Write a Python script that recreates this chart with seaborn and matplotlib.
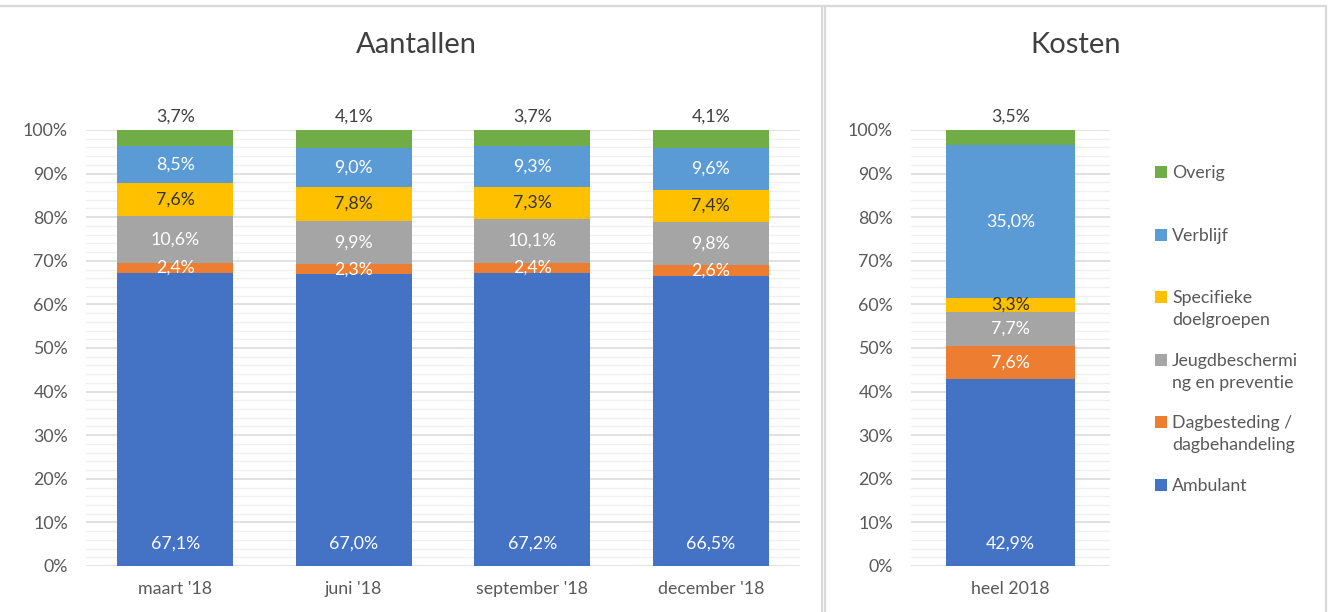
import numpy as np
import matplotlib
matplotlib.use("Agg")
import matplotlib.pyplot as plt
import seaborn as sns
from matplotlib.patches import Rectangle
from matplotlib.lines import Line2D
from matplotlib.ticker import MultipleLocator, PercentFormatter

# ---------------- data ----------------
series = ["Ambulant", "Dagbesteding / dagbehandeling", "Jeugdbescherming en preventie",
          "Specifieke doelgroepen", "Verblijf", "Overig"]
legend_labels = ["Ambulant", "Dagbesteding /\ndagbehandeling", "Jeugdbeschermi\nng en preventie",
                 "Specifieke\ndoelgroepen", "Verblijf", "Overig"]
colors = ["#4472C4", "#ED7D31", "#A5A5A5", "#FFC000", "#5B9BD5", "#70AD47"]
label_colors = ["white", "white", "white", "#333333", "white", "#404040"]

aantallen_periods = ["maart '18", "juni '18", "september '18", "december '18"]
ambulant_a = [67.1, 67.0, 67.2, 66.5]
dagbesteding_a = [2.4, 2.3, 2.4, 2.6]
jeugd_a = [10.6, 9.9, 10.1, 9.8]
specifiek_a = [7.6, 7.8, 7.3, 7.4]
verblijf_a = [8.5, 9.0, 9.3, 9.6]
overig_a = [3.7, 4.1, 3.7, 4.1]

kosten_periods = ["heel 2018"]
ambulant_k = [42.9]
dagbesteding_k = [7.6]
jeugd_k = [7.7]
specifiek_k = [3.3]
verblijf_k = [35.0]
overig_k = [3.5]

# ---------------- style ----------------
sns.set_style("white")
plt.rcParams["font.family"] = ["Lato", "DejaVu Sans"]
TXT = "#595959"
FS = 12.8

W, H = 1333, 612
fig = plt.figure(figsize=(W / 100, H / 100), dpi=100)
fig.patch.set_facecolor("white")


def fmt(v):
    return f"{v:.1f}".replace(".", ",") + "%"


def stacked(ax, cats, vals):
    arr = np.array(vals, dtype=float)
    share = arr / arr.sum(axis=0) * 100
    bottom = np.zeros(len(cats))
    for i, col in enumerate(colors):
        sns.barplot(x=cats, y=share[i], bottom=bottom, color=col, width=0.65,
                    errorbar=None, saturation=1, order=cats, ax=ax, linewidth=0)
        cont = ax.containers[-1]
        labs = [fmt(v) for v in arr[i]]
        if i == 0:
            # "inside base" labels, as in the original
            for rect, lab in zip(cont.patches, labs):
                ax.annotate(lab, xy=(rect.get_x() + rect.get_width() / 2, rect.get_y()),
                            xytext=(0, 22), textcoords="offset pixels",
                            ha="center", va="center", color=label_colors[i], fontsize=FS)
        elif i == len(colors) - 1:
            ax.bar_label(cont, labels=labs, label_type="edge", padding=4,
                         color=label_colors[i], fontsize=FS)
        else:
            ax.bar_label(cont, labels=labs, label_type="center",
                         color=label_colors[i], fontsize=FS)
        bottom = bottom + share[i]
    ax.set_ylim(0, 100)
    ax.set_xlim(-0.5, len(cats) - 0.5)
    ax.yaxis.set_major_locator(MultipleLocator(10))
    ax.yaxis.set_minor_locator(MultipleLocator(2))
    ax.yaxis.set_major_formatter(PercentFormatter(decimals=0))
    ax.grid(which="major", axis="y", color="#D9D9D9", lw=1.1)
    ax.grid(which="minor", axis="y", color="#F0F0F0", lw=1.0)
    ax.grid(which="major", axis="x", visible=False)
    ax.set_axisbelow(True)
    for s in ax.spines.values():
        s.set_visible(False)
    ax.tick_params(axis="y", which="both", length=0, pad=13, labelsize=FS, labelcolor=TXT)
    ax.tick_params(axis="x", which="both", length=0, pad=11, labelsize=FS, labelcolor=TXT)
    ax.set_xlabel("")
    ax.set_ylabel("")


bot = 1 - 566 / H
hgt = 436 / H
ax1 = fig.add_axes([86 / W, bot, (800 - 86) / W, hgt])
ax2 = fig.add_axes([911 / W, bot, 199 / W, hgt])

stacked(ax1, aantallen_periods,
        [ambulant_a, dagbesteding_a, jeugd_a, specifiek_a, verblijf_a, overig_a])
stacked(ax2, kosten_periods,
        [ambulant_k, dagbesteding_k, jeugd_k, specifiek_k, verblijf_k, overig_k])

# titles
fig.text(416 / W, 1 - 45 / H, "Aantallen", ha="center", va="center", fontsize=21, color="#404040")
fig.text(1076 / W, 1 - 45 / H, "Kosten", ha="center", va="center", fontsize=21, color="#404040")

# panel borders
bc = "#D9D9D9"
for (x0, y0, x1, y1) in [(0, 6, 1326, 6), (822, 6, 822, H), (825, 6, 825, H), (1326, 6, 1326, H)]:
    fig.add_artist(Line2D([x0 / W, x1 / W], [1 - y0 / H, 1 - y1 / H], color=bc, lw=1.6,
                          transform=fig.transFigure))

# legend (top to bottom: Overig ... Ambulant)
order = list(range(len(series)))[::-1]
for k, i in enumerate(order):
    yc = 172 + k * 62.6
    fig.add_artist(Rectangle((1155 / W, 1 - (yc + 6) / H), 12 / W, 12 / H,
                             facecolor=colors[i], edgecolor="none", transform=fig.transFigure))
    fig.text(1172 / W, 1 - (yc - 7) / H, legend_labels[i], ha="left", va="top",
             fontsize=FS, color=TXT, linespacing=1.45)

fig.savefig("out.png", dpi=100, facecolor="white")
